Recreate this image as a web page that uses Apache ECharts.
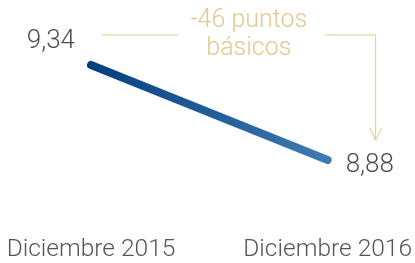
<!DOCTYPE html>
<html lang="es">
<head>
<meta charset="utf-8">
<title>Diciembre 2015 - Diciembre 2016</title>
<script src="https://cdn.jsdelivr.net/npm/echarts@6/dist/echarts.min.js"></script>
<style>
  html, body { margin: 0; padding: 0; background: #fff; }
  #chart { width: 415px; height: 263px; }
</style>
</head>
<body>
<div id="chart"></div>
<script>
var categories = ['Diciembre 2015', 'Diciembre 2016'];
var values = [9.34, 8.88];
var valueLabels = ['9,34', '8,88'];
var noteText = '-46 puntos\nbásicos';

var gold = '#e3c98f';
var chart = echarts.init(document.getElementById('chart'));

chart.setOption({
    animation: false,
    grid: { left: 91, right: 85, top: 11.3, bottom: 34.85 },
    xAxis: {
        type: 'category',
        data: categories,
        boundaryGap: false,
        axisLine: { show: false },
        axisTick: { show: false },
        axisLabel: {
            margin: 9,
            fontFamily: 'Roboto',
            fontWeight: 300,
            fontSize: 24.5,
            color: '#555'
        }
    },
    yAxis: {
        type: 'value',
        min: 8.55,
        max: 9.6,
        show: false
    },
    series: [{
        type: 'line',
        data: values,
        symbol: 'none',
        lineStyle: {
            width: 8,
            cap: 'round',
            color: new echarts.graphic.LinearGradient(0, 0, 1, 0, [
                { offset: 0, color: '#033f7e' },
                { offset: 1, color: '#3f7cb4' }
            ])
        }
    }, {
        type: 'scatter',
        symbolSize: 0,
        label: {
            show: true,
            fontFamily: 'Roboto',
            fontWeight: 300,
            fontSize: 26,
            color: '#222',
            formatter: function (p) { return valueLabels[p.dataIndex]; }
        },
        data: [
            { value: values[0], label: { position: 'left', distance: 16, offset: [0, -23] } },
            { value: values[1], label: { position: 'right', distance: 18, offset: [0, 6] } }
        ]
    }]
});

// bracket annotation built from the data points
var p1 = chart.convertToPixel({ seriesIndex: 0 }, [0, values[0]]);
var p2 = chart.convertToPixel({ seriesIndex: 0 }, [1, values[1]]);
var by = p1[1] - 30;
var bx0 = p1[0] + 11;
var bx1 = p2[0] + 48;
var ay = p2[1] - 20;
var tx = (bx0 + bx1) / 2 + 10;

chart.setOption({
    graphic: [
        { type: 'line', shape: { x1: bx0, y1: by, x2: tx - 70, y2: by }, style: { stroke: gold, lineWidth: 1 } },
        { type: 'polyline', shape: { points: [[tx + 76, by], [bx1, by], [bx1, ay]] }, style: { stroke: gold, lineWidth: 1, fill: null } },
        { type: 'polyline', shape: { points: [[bx1 - 6, ay - 12], [bx1, ay], [bx1 + 6, ay - 12]] }, style: { stroke: gold, lineWidth: 1, fill: null } },
        {
            type: 'text',
            x: tx, y: by - 28,
            style: {
                text: noteText,
                fill: gold,
                font: '300 25px Roboto',
                align: 'center',
                verticalAlign: 'top',
                lineHeight: 28
            }
        }
    ]
});
</script>
</body>
</html>
